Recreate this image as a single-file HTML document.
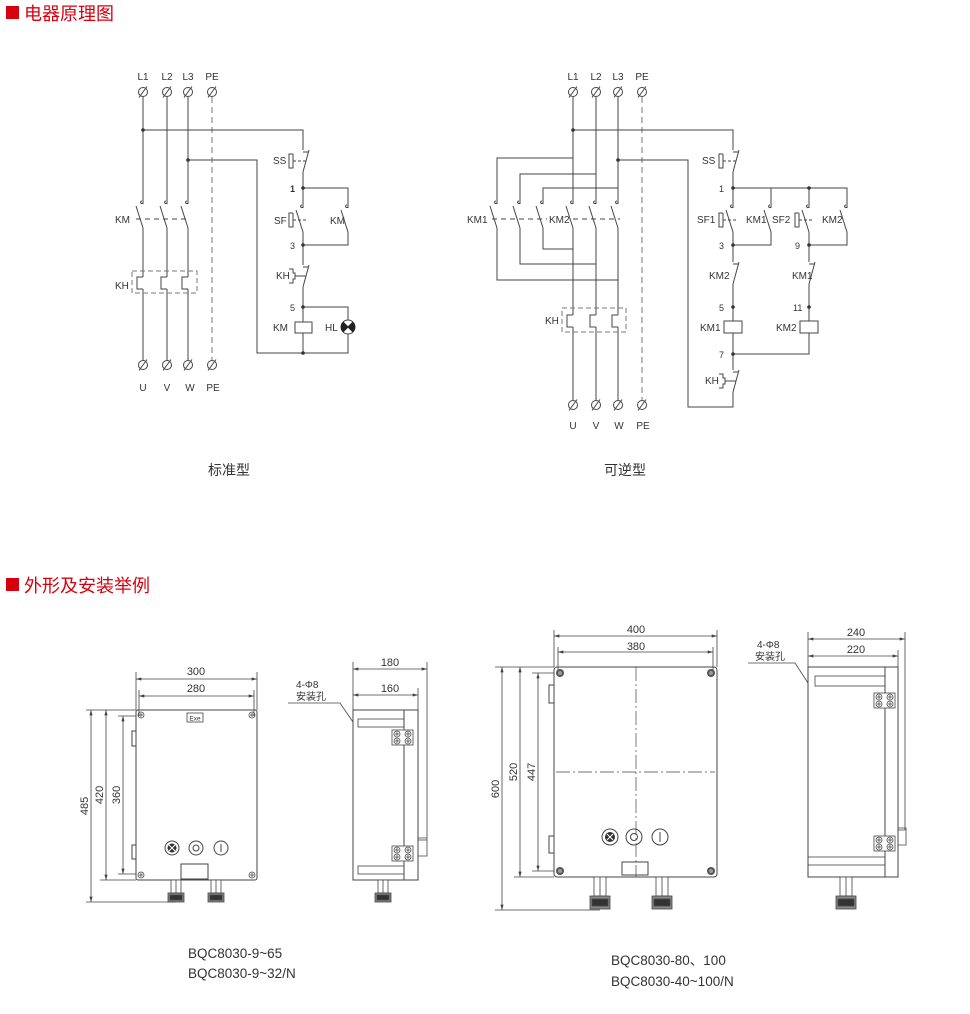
<!DOCTYPE html>
<html><head><meta charset="utf-8"><style>
html,body{margin:0;padding:0;background:#fff;}
svg{display:block;}
text{font-family:"Liberation Sans","Noto Sans CJK SC",sans-serif;fill:#333;}
</style></head><body>
<svg width="970" height="1014" viewBox="0 0 970 1014" xmlns="http://www.w3.org/2000/svg">
<defs>
<g id="t" fill="none" stroke="#444" stroke-width="1"><circle r="4.5"/><line x1="-4" y1="5.5" x2="4" y2="-5.5"/></g>
<g id="no" fill="none" stroke="#444" stroke-width="1"><path d="M-1 -3 a1.3 1.3 0 1 0 1 2"/><line x1="-7" y1="2" x2="0" y2="24"/></g>
<g id="nc" fill="none" stroke="#444" stroke-width="1"><path d="M0 2 H5 M6 0 L0 22"/></g>
<g id="th" fill="none" stroke="#444" stroke-width="1"><path d="M0 0 H-6 V12 H0"/></g>
<g id="pb" fill="none" stroke="#444" stroke-width="1"><path d="M-10 -7 H-14 V7 H-10 V-7"/><line x1="-10" y1="0" x2="3" y2="0" stroke-dasharray="3,2"/></g>
<g id="kh" fill="none" stroke="#444" stroke-width="1"><path d="M-14 -7 H-10 V-3 H-8 V3 H-10 V7 H-14"/><line x1="-8" y1="0" x2="3" y2="0"/></g>
<g id="scr" fill="none" stroke="#444" stroke-width="0.8"><circle r="3"/><path d="M-2 0 H2 M0 -2 V2"/></g>
<g id="dscr"><circle r="4" fill="#555"/><circle r="2" fill="#999"/></g>
<g id="gl" stroke="#444" stroke-width="0.8" fill="#fff"><rect x="-5" y="0" width="10" height="13"/><line x1="0" y1="0" x2="0" y2="13"/><rect x="-8" y="13" width="16" height="9" fill="#888"/><rect x="-6" y="15" width="12" height="5" fill="#333"/></g>
<g id="gl2" stroke="#444" stroke-width="0.8" fill="#fff"><rect x="-6" y="0" width="12" height="19"/><line x1="0" y1="0" x2="0" y2="19"/><rect x="-10" y="19" width="20" height="13" fill="#888"/><rect x="-8" y="22" width="16" height="7" fill="#333"/></g>
<g id="brk" stroke="#444" stroke-width="0.8" fill="#fff"><rect x="0" y="0" width="21" height="15"/><use href="#scr" x="5" y="4"/><use href="#scr" x="5" y="11"/><use href="#scr" x="16" y="4"/><use href="#scr" x="16" y="11"/></g>
<marker id="a" viewBox="0 0 10 6" refX="10" refY="3" markerWidth="8" markerHeight="4" orient="auto-start-reverse"><path d="M0 0 L10 3 L0 6 z" fill="#444"/></marker>
</defs>

<!-- headers -->
<rect x="6" y="6" width="13" height="13" fill="#d7000f"/>
<text x="24" y="20" font-size="18" style="fill:#d7000f">电器原理图</text>
<rect x="6" y="578" width="13" height="13" fill="#d7000f"/>
<text x="24" y="592" font-size="18" style="fill:#d7000f">外形及安装举例</text>

<g stroke="#444" stroke-width="1" fill="none">
<!-- LEFT main -->
<path d="M143 97V204M143 228V277M143 289V360M167 97V204M167 228V277M167 289V360M188 97V204M188 228V277M188 289V360"/>
<line x1="212" y1="97" x2="212" y2="360" stroke-dasharray="6,4" stroke="#777"/>
<line x1="136" y1="219" x2="190" y2="219" stroke-dasharray="5,4"/>
<rect x="132" y="271" width="65" height="22" stroke-dasharray="5,3" stroke="#777"/>
<!-- left control -->
<path d="M143 130H303V150M303 172V208M303 188H348V208M348 232V245H303M303 232V265M303 287V322M303 307H348V320M303 333V353M348 334V353H257V160H188"/>
<rect x="295" y="322" width="17" height="11"/>
<circle cx="348" cy="327" r="7"/>
<!-- RIGHT main -->
<path d="M573 97V204M573 228V315M573 327V400M596 97V204M596 228V315M596 327V400M618 97V204M618 228V315M618 327V400"/>
<path d="M573 158H497V204M497 228V280H618M596 174H520V204M520 228V264H596M618 188H543V204M543 228V249H573"/>
<line x1="642" y1="97" x2="642" y2="400" stroke-dasharray="6,4" stroke="#777"/>
<line x1="492" y1="219" x2="547" y2="219" stroke-dasharray="5,4"/>
<line x1="573" y1="219" x2="620" y2="219" stroke-dasharray="5,4"/>
<rect x="562" y="308" width="64" height="24" stroke-dasharray="5,3" stroke="#777"/>
<!-- right control -->
<path d="M573 130H733V150M733 172V208M733 188H847V208M771 188V208M809 188V208M771 232V245H733M847 232V245H809M733 232V262M809 232V262M733 284V321M809 284V321M733 333V370M809 333V354H733M733 392V407H688V160H618"/>
<rect x="724" y="321" width="18" height="12"/>
<rect x="800" y="321" width="18" height="12"/>
</g>
<path d="M343 322 L348 327 L343 332 A7 7 0 0 1 343 322Z M353 322 L348 327 L353 332 A7 7 0 0 0 353 322Z" fill="#222"/>
<path d="M343 322 L353 332 M353 322 L343 332" stroke="#222" stroke-width="1"/>

<!-- contacts -->
<use href="#no" x="143" y="204"/><use href="#no" x="167" y="204"/><use href="#no" x="188" y="204"/>
<use href="#th" x="143" y="277"/><use href="#th" x="167" y="277"/><use href="#th" x="188" y="277"/>
<use href="#nc" x="303" y="150"/><use href="#pb" x="303" y="161"/>
<use href="#no" x="303" y="208"/><use href="#pb" x="303" y="220"/>
<use href="#no" x="348" y="208"/>
<use href="#nc" x="303" y="265"/><use href="#kh" x="303" y="276"/>
<use href="#no" x="497" y="204"/><use href="#no" x="520" y="204"/><use href="#no" x="543" y="204"/>
<use href="#no" x="573" y="204"/><use href="#no" x="596" y="204"/><use href="#no" x="618" y="204"/>
<use href="#th" x="573" y="315"/><use href="#th" x="596" y="315"/><use href="#th" x="618" y="315"/>
<use href="#nc" x="733" y="150"/><use href="#pb" x="733" y="161"/>
<use href="#no" x="733" y="208"/><use href="#pb" x="733" y="220"/>
<use href="#no" x="771" y="208"/>
<use href="#no" x="809" y="208"/><use href="#pb" x="809" y="220"/>
<use href="#no" x="847" y="208"/>
<use href="#nc" x="733" y="262"/><use href="#nc" x="809" y="262"/>
<use href="#nc" x="733" y="370"/><use href="#kh" x="733" y="381"/>

<!-- terminals -->
<use href="#t" x="143" y="92"/><use href="#t" x="167" y="92"/><use href="#t" x="188" y="92"/><use href="#t" x="212" y="92"/>
<use href="#t" x="143" y="365"/><use href="#t" x="167" y="365"/><use href="#t" x="188" y="365"/><use href="#t" x="212" y="365"/>
<use href="#t" x="573" y="92"/><use href="#t" x="596" y="92"/><use href="#t" x="618" y="92"/><use href="#t" x="642" y="92"/>
<use href="#t" x="573" y="405"/><use href="#t" x="596" y="405"/><use href="#t" x="618" y="405"/><use href="#t" x="642" y="405"/>

<!-- dots -->
<g fill="#333">
<circle cx="143" cy="130" r="1.8"/><circle cx="188" cy="160" r="1.8"/><circle cx="303" cy="188" r="1.8"/><circle cx="303" cy="245" r="1.8"/><circle cx="303" cy="307" r="1.8"/><circle cx="303" cy="353" r="1.8"/>
<circle cx="573" cy="130" r="1.8"/><circle cx="618" cy="160" r="1.8"/><circle cx="733" cy="188" r="1.8"/><circle cx="809" cy="188" r="1.8"/><circle cx="733" cy="245" r="1.8"/><circle cx="809" cy="245" r="1.8"/><circle cx="733" cy="307" r="1.8"/><circle cx="809" cy="307" r="1.8"/><circle cx="733" cy="354" r="1.8"/>
</g>

<!-- circuit labels -->
<g font-size="10" text-anchor="middle">
<text x="143" y="80">L1</text><text x="167" y="80">L2</text><text x="188" y="80">L3</text><text x="212" y="80">PE</text>
<text x="143" y="391">U</text><text x="167" y="391">V</text><text x="190" y="391">W</text><text x="213" y="391">PE</text>
<text x="573" y="80">L1</text><text x="596" y="80">L2</text><text x="618" y="80">L3</text><text x="642" y="80">PE</text>
<text x="573" y="429">U</text><text x="596" y="429">V</text><text x="619" y="429">W</text><text x="643" y="429">PE</text>
</g>
<g font-size="10">
<text x="115" y="223">KM</text><text x="115" y="289">KH</text>
<text x="273" y="164">SS</text><text x="290" y="192" font-weight="bold" font-size="9">1</text><text x="274" y="224">SF</text><text x="330" y="224">KM</text>
<text x="290" y="249" font-size="9">3</text><text x="276" y="279">KH</text><text x="290" y="311" font-size="9">5</text>
<text x="273" y="331">KM</text><text x="325" y="331">HL</text>
<text x="467" y="223">KM1</text><text x="549" y="223">KM2</text><text x="545" y="324">KH</text>
<text x="702" y="164">SS</text><text x="719" y="192" font-size="9">1</text>
<text x="697" y="223">SF1</text><text x="746" y="223">KM1</text><text x="772" y="223">SF2</text><text x="822" y="223">KM2</text>
<text x="719" y="249" font-size="9">3</text><text x="795" y="249" font-size="9">9</text>
<text x="709" y="279">KM2</text><text x="792" y="279">KM1</text>
<text x="719" y="311" font-size="9">5</text><text x="793" y="311" font-size="9">11</text>
<text x="700" y="331">KM1</text><text x="776" y="331">KM2</text>
<text x="719" y="358" font-size="9">7</text><text x="705" y="384">KH</text>
</g>
<g font-size="14" text-anchor="middle">
<text x="229" y="475">标准型</text><text x="625" y="475">可逆型</text>
</g>

<!-- ===== bottom left front ===== -->
<g stroke="#444" stroke-width="1" fill="none">
<rect x="136" y="710" width="121" height="170" rx="2"/>
<rect x="132" y="731" width="4" height="15"/><rect x="132" y="845" width="4" height="14"/>
<rect x="187" y="713" width="16" height="9" stroke-width="0.8"/>
<circle cx="172" cy="848" r="7"/><circle cx="196" cy="848" r="7"/><circle cx="196" cy="848" r="3"/><circle cx="221" cy="848" r="7"/><line x1="221" y1="844" x2="221" y2="852"/>
<rect x="181" y="864" width="27" height="15"/>
<g stroke-width="0.8">
<path d="M136 672V710M257 672V710M139 690V716M254 690V716"/>
<path d="M86 710H136M100 880H136M86 902H176M118 716H136M118 874H136"/>
</g>
<line x1="136" y1="679" x2="257" y2="679" marker-start="url(#a)" marker-end="url(#a)" stroke-width="0.8"/>
<line x1="139" y1="696" x2="254" y2="696" marker-start="url(#a)" marker-end="url(#a)" stroke-width="0.8"/>
<line x1="91" y1="710" x2="91" y2="902" marker-start="url(#a)" marker-end="url(#a)" stroke-width="0.8"/>
<line x1="106" y1="710" x2="106" y2="880" marker-start="url(#a)" marker-end="url(#a)" stroke-width="0.8"/>
<line x1="123" y1="716" x2="123" y2="874" marker-start="url(#a)" marker-end="url(#a)" stroke-width="0.8"/>
</g>
<circle cx="172" cy="848" r="4.5" fill="#333"/><path d="M169 845L175 851M175 845L169 851" stroke="#fff" stroke-width="1"/>
<use href="#scr" x="141" y="715"/><use href="#scr" x="252" y="715"/><use href="#scr" x="141" y="875"/><use href="#scr" x="252" y="875"/>
<use href="#gl" x="176" y="880"/><use href="#gl" x="216" y="880"/>
<text x="195" y="720.5" font-size="6.5" text-anchor="middle">Exe</text>
<g font-size="11" text-anchor="middle">
<text x="196" y="675">300</text><text x="196" y="692">280</text>
<text transform="translate(88,806) rotate(-90)">485</text>
<text transform="translate(103,795) rotate(-90)">420</text>
<text transform="translate(120,795) rotate(-90)">360</text>
</g>

<!-- bottom left side -->
<g stroke="#444" stroke-width="1" fill="none">
<rect x="353" y="710" width="51" height="170"/>
<rect x="404" y="710" width="14" height="170"/>
<path d="M427 662V840H418M418 838H427V856H418" stroke-width="0.8"/>
<rect x="358" y="719" width="46" height="8" stroke-width="0.8"/>
<rect x="358" y="866" width="46" height="8" stroke-width="0.8"/>
<path d="M288 703H340L353 722" stroke-width="0.8"/>
<path d="M353 662V710M418 688V710" stroke-width="0.8"/>
<line x1="353" y1="669" x2="427" y2="669" marker-start="url(#a)" marker-end="url(#a)" stroke-width="0.8"/>
<line x1="353" y1="695" x2="418" y2="695" marker-start="url(#a)" marker-end="url(#a)" stroke-width="0.8"/>
</g>
<use href="#brk" x="392" y="730"/><use href="#brk" x="392" y="846"/>
<use href="#gl" x="383" y="880"/>
<g font-size="11" text-anchor="middle"><text x="390" y="666">180</text><text x="390" y="692">160</text></g>
<text x="296" y="688" font-size="10">4-Φ8</text>
<text x="296" y="700" font-size="10">安装孔</text>

<!-- ===== bottom right front ===== -->
<g stroke="#444" stroke-width="1" fill="none">
<rect x="554" y="667" width="163" height="210" rx="3"/>
<rect x="549" y="685" width="5" height="18"/><rect x="549" y="836" width="5" height="17"/>
<line x1="636" y1="667" x2="636" y2="877" stroke-dasharray="14,3,2,3" stroke-width="0.7"/>
<line x1="556" y1="772" x2="715" y2="772" stroke-dasharray="14,3,2,3" stroke-width="0.7"/>
<circle cx="610" cy="837" r="8"/><circle cx="634" cy="837" r="8"/><circle cx="634" cy="837" r="3.5"/><circle cx="660" cy="837" r="8"/><line x1="660" y1="832" x2="660" y2="842"/>
<rect x="622" y="862" width="26" height="13"/>
<g stroke-width="0.8">
<path d="M554 630V667M717 630V667M558 647V673M713 647V673"/>
<path d="M495 667H554M514 877H554M495 910H600M532 673H554M532 871H554"/>
</g>
<line x1="554" y1="636" x2="717" y2="636" marker-start="url(#a)" marker-end="url(#a)" stroke-width="0.8"/>
<line x1="558" y1="652" x2="713" y2="652" marker-start="url(#a)" marker-end="url(#a)" stroke-width="0.8"/>
<line x1="502" y1="667" x2="502" y2="910" marker-start="url(#a)" marker-end="url(#a)" stroke-width="0.8"/>
<line x1="520" y1="667" x2="520" y2="877" marker-start="url(#a)" marker-end="url(#a)" stroke-width="0.8"/>
<line x1="538" y1="673" x2="538" y2="871" marker-start="url(#a)" marker-end="url(#a)" stroke-width="0.8"/>
</g>
<circle cx="610" cy="837" r="5" fill="#333"/><path d="M607 834L613 840M613 834L607 840" stroke="#fff" stroke-width="1"/>
<use href="#dscr" x="560" y="673"/><use href="#dscr" x="711" y="673"/><use href="#dscr" x="560" y="871"/><use href="#dscr" x="711" y="871"/>
<use href="#gl2" x="600" y="877"/><use href="#gl2" x="662" y="877"/>
<g font-size="11" text-anchor="middle">
<text x="636" y="633">400</text><text x="636" y="650">380</text>
<text transform="translate(499,789) rotate(-90)">600</text>
<text transform="translate(517,772) rotate(-90)">520</text>
<text transform="translate(535,772) rotate(-90)">447</text>
</g>

<!-- bottom right side -->
<g stroke="#444" stroke-width="1" fill="none">
<rect x="808" y="667" width="77" height="210"/>
<rect x="885" y="667" width="13" height="210"/>
<path d="M905 632V830H898M898 828H906V845H898" stroke-width="0.8"/>
<rect x="815" y="676" width="70" height="10" stroke-width="0.8"/>
<rect x="808" y="857" width="77" height="8" stroke-width="0.8"/>
<path d="M748 663H795L808 683" stroke-width="0.8"/>
<path d="M808 632V667M898 650V667" stroke-width="0.8"/>
<line x1="808" y1="639" x2="905" y2="639" marker-start="url(#a)" marker-end="url(#a)" stroke-width="0.8"/>
<line x1="808" y1="656" x2="898" y2="656" marker-start="url(#a)" marker-end="url(#a)" stroke-width="0.8"/>
</g>
<use href="#brk" x="874" y="693"/><use href="#brk" x="874" y="836"/>
<use href="#gl2" x="846" y="877"/>
<g font-size="11" text-anchor="middle"><text x="856" y="636">240</text><text x="856" y="653">220</text></g>
<text x="757" y="648" font-size="10">4-Φ8</text>
<text x="755" y="660" font-size="10">安装孔</text>

<!-- captions -->
<g font-size="13.5">
<text x="188" y="958">BQC8030-9~65</text>
<text x="188" y="978">BQC8030-9~32/N</text>
<text x="611" y="965">BQC8030-80、100</text>
<text x="611" y="986">BQC8030-40~100/N</text>
</g>
</svg>
</body></html>
